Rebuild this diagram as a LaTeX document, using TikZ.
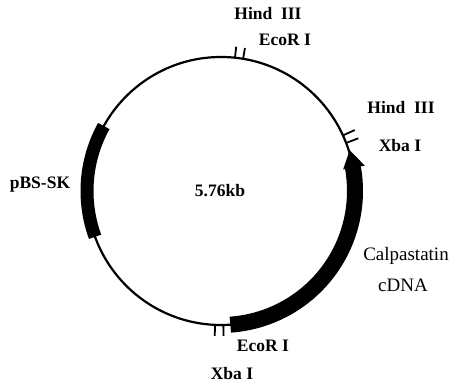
\documentclass[tikz,border=0pt]{standalone}
\usepackage{fontspec}
\setmainfont{Liberation Serif}
\begin{document}
\begin{tikzpicture}[x=1pt,y=1pt,
  backbone/.style={line width=2.2pt},
  insert/.style={line width=16pt},
  vector/.style={line width=13pt},
  site/.style={line width=1.8pt},
  sitelabel/.style={font=\fontsize{17.5}{19}\selectfont\bfseries, inner sep=0pt},
  plainlabel/.style={font=\fontsize{19}{21}\selectfont, inner sep=0pt, align=center}]
\useasboundingbox (0,0) rectangle (452,387);
\coordinate (c) at (221,196);
\def\R{134}
% plasmid backbone
\draw[backbone] (c) circle (\R);
% pBS-SK segment
\draw[vector] ([shift={(151:\R)}]c) arc (151:200:\R);
% Calpastatin cDNA insert with arrowhead
\draw[insert] ([shift={(10.5:\R)}]c) arc (10.5:-86:\R);
\fill ([shift={(17.6:\R+1)}]c) -- ([shift={(10:\R+12)}]c) -- ([shift={(10:\R-10)}]c) -- cycle;
% restriction site ticks
\foreach \a in {84,80.5} \draw[site] ([shift={(\a:\R)}]c) -- ([shift={(\a:\R+11)}]c);
\foreach \a in {24.5,21} \draw[site] ([shift={(\a:\R+1)}]c) -- ([shift={(\a:\R+13)}]c);
\foreach \a in {-92.5,-89} \draw[site] ([shift={(\a:\R)}]c) -- ([shift={(\a:\R+11)}]c);
% labels
\node[sitelabel] (h1) at (268,373) {Hind\ \ III};
\node[sitelabel] (e1) at (285,347) {EcoR I};
\node[sitelabel] (h2) at (401,279) {Hind\ \ III};
\node[sitelabel] (x1) at (400,241) {Xba I};
\node[sitelabel] (pbs) at (40,202) {pBS-SK};
\node[sitelabel] (size) at (220,196) {5.76kb};
\node[plainlabel] (cal) at (406,131) {Calpastatin};
\node[plainlabel] (cdna) at (403,102) {cDNA};
\node[sitelabel] (e2) at (263,41) {EcoR I};
\node[sitelabel] (x2) at (232,13) {Xba I};
\end{tikzpicture}
\end{document}
